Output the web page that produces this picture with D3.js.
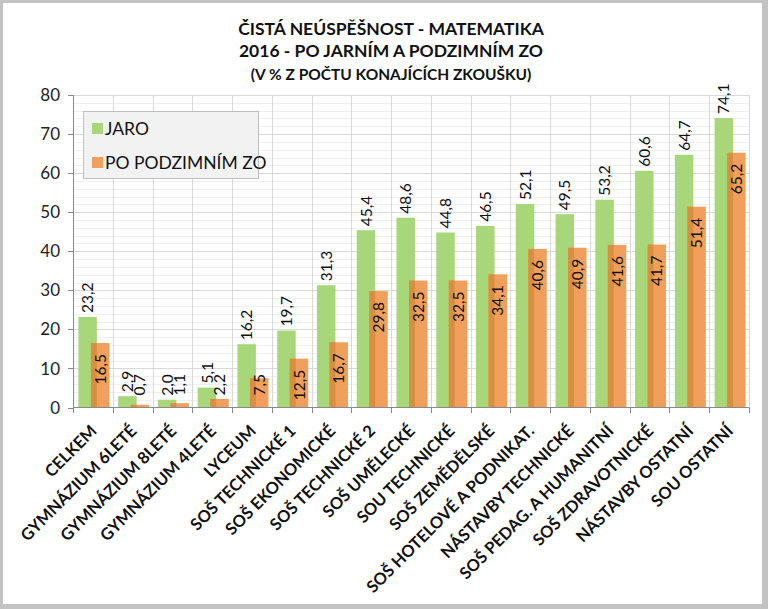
<!DOCTYPE html>
<html>
<head>
<meta charset="utf-8">
<script src="https://cdn.jsdelivr.net/npm/d3@7"></script>
<style>
html,body{margin:0;padding:0;background:#fff;}
svg{display:block;}
</style>
</head>
<body>
<script>
const categories = ["CELKEM","GYMNÁZIUM 6LETÉ","GYMNÁZIUM 8LETÉ","GYMNÁZIUM 4LETÉ","LYCEUM","SOŠ TECHNICKÉ 1","SOŠ EKONOMICKÉ","SOŠ TECHNICKÉ 2","SOŠ UMĚLECKÉ","SOU TECHNICKÉ","SOŠ ZEMĚDĚLSKÉ","SOŠ HOTELOVÉ A PODNIKAT.","NÁSTAVBY TECHNICKÉ","SOŠ PEDAG. A HUMANITNÍ","SOŠ ZDRAVOTNICKÉ","NÁSTAVBY OSTATNÍ","SOU OSTATNÍ"];
const jaro = [23.2,2.9,2.0,5.1,16.2,19.7,31.3,45.4,48.6,44.8,46.5,52.1,49.5,53.2,60.6,64.7,74.1];
const podzim = [16.5,0.7,1.1,2.2,7.5,12.5,16.7,29.8,32.5,32.5,34.1,40.6,40.9,41.6,41.7,51.4,65.2];
const seriesNames = ["JARO","PO PODZIMNÍM ZO"];
const yTicks = [0,10,20,30,40,50,60,70,80];
const titleLines = ["ČISTÁ NEÚSPĚŠNOST - MATEMATIKA","2016 - PO JARNÍM A PODZIMNÍM ZO","(V % Z POČTU KONAJÍCÍCH ZKOUŠKU)"];

const W = 768, H = 609;
const FONT = "Lato, 'Open Sans', sans-serif";
const green = "#a8d77a", orange = "#f0a05c", overlapCol = "#d98f42";

const svg = d3.select("body").append("svg").attr("width", W).attr("height", H);
svg.append("rect").attr("width", W).attr("height", H).attr("fill", "#c3c3c3");
svg.append("rect").attr("x", 3).attr("y", 3).attr("width", 759).attr("height", 601).attr("fill", "#fff");

const x = d3.scaleBand().domain(categories).range([73, 749]).paddingInner(0).paddingOuter(0);
const y = d3.scaleLinear().domain([0, 80]).range([407.5, 95]);
const bw = x.bandwidth();
const gOff = bw * 0.135, oOff = bw * 0.45, barW = bw * 0.465;

// minor gridlines
const minor = d3.range(2, 80, 2).filter(v => v % 10 !== 0);
svg.append("g").selectAll("line").data(minor).join("line")
  .attr("x1", 73).attr("x2", 749).attr("y1", d => Math.round(y(d)) + 0.5).attr("y2", d => Math.round(y(d)) + 0.5)
  .attr("stroke", "#efefef").attr("stroke-width", 1);
// major gridlines
svg.append("g").selectAll("line").data(yTicks.slice(1)).join("line")
  .attr("x1", 73).attr("x2", 749).attr("y1", d => Math.round(y(d)) + 0.5).attr("y2", d => Math.round(y(d)) + 0.5)
  .attr("stroke", "#d9d9d9").attr("stroke-width", 1);
// vertical gridlines
svg.append("g").selectAll("line").data(d3.range(1, categories.length + 1)).join("line")
  .attr("x1", i => Math.round(73 + i * bw) + 0.5).attr("x2", i => Math.round(73 + i * bw) + 0.5)
  .attr("y1", y(80)).attr("y2", y(0))
  .attr("stroke", "#d9d9d9").attr("stroke-width", 1);

// bars
const idx = d3.range(categories.length);
svg.append("g").selectAll("rect").data(idx).join("rect")
  .attr("x", i => x(categories[i]) + gOff).attr("width", barW)
  .attr("y", i => y(jaro[i])).attr("height", i => y(0) - y(jaro[i]))
  .attr("fill", green);
svg.append("g").selectAll("rect").data(idx).join("rect")
  .attr("x", i => x(categories[i]) + oOff).attr("width", barW)
  .attr("y", i => y(podzim[i])).attr("height", i => y(0) - y(podzim[i]))
  .attr("fill", orange);
// overlap shading
svg.append("g").selectAll("rect").data(idx).join("rect")
  .attr("x", i => x(categories[i]) + oOff).attr("width", gOff + barW - oOff)
  .attr("y", i => y(Math.min(podzim[i], jaro[i]))).attr("height", i => y(0) - y(Math.min(podzim[i], jaro[i])))
  .attr("fill", overlapCol);

// axes
svg.append("line").attr("x1", 73).attr("x2", 749).attr("y1", 407.5).attr("y2", 407.5).attr("stroke", "#898989");
svg.append("line").attr("x1", 73.5).attr("x2", 73.5).attr("y1", y(80)).attr("y2", 407.5).attr("stroke", "#898989");
svg.append("g").selectAll("line").data(d3.range(categories.length + 1)).join("line")
  .attr("x1", i => Math.round(73 + i * bw) + 0.5).attr("x2", i => Math.round(73 + i * bw) + 0.5)
  .attr("y1", 407.5).attr("y2", 413).attr("stroke", "#898989");
svg.append("g").selectAll("line").data(yTicks).join("line")
  .attr("x1", 68).attr("x2", 73).attr("y1", d => Math.round(y(d)) + 0.5).attr("y2", d => Math.round(y(d)) + 0.5)
  .attr("stroke", "#898989");
svg.append("g").selectAll("text").data(yTicks).join("text")
  .attr("x", 60).attr("y", d => y(d)).attr("dy", "0.36em")
  .attr("text-anchor", "end").attr("font-family", FONT).attr("font-size", 17).attr("fill", "#222")
  .text(d => d);

const fmt = v => d3.format(".1f")(v).replace(".", ",");
const LBL = 15.5;
// green labels outside end
svg.append("g").selectAll("text").data(idx).join("text")
  .attr("transform", i => `translate(${x(categories[i]) + gOff + barW / 2},${y(jaro[i]) - 4}) rotate(-90)`)
  .attr("dy", "0.36em").attr("text-anchor", "start")
  .attr("font-family", FONT).attr("font-size", LBL).attr("fill", "#111")
  .text(i => fmt(jaro[i]));
// orange labels inside end (or above the base when bar too short)
svg.append("g").selectAll("text").data(idx).join("text")
  .attr("transform", i => {
    const h = y(0) - y(podzim[i]);
    const cx = x(categories[i]) + oOff + barW / 2;
    return h >= 40 ? `translate(${cx},${y(podzim[i]) + 11}) rotate(-90)` : `translate(${cx},${y(0) - 12}) rotate(-90)`;
  })
  .attr("dy", "0.36em")
  .attr("text-anchor", i => (y(0) - y(podzim[i])) >= 40 ? "end" : "start")
  .attr("font-family", FONT).attr("font-size", LBL).attr("fill", "#111")
  .text(i => fmt(podzim[i]));

// x labels
svg.append("g").selectAll("text").data(categories).join("text")
  .attr("transform", d => `translate(${x(d) + bw / 2 + 5},${432}) rotate(-45)`)
  .attr("text-anchor", "end").attr("font-family", FONT).attr("font-weight", "bold")
  .attr("font-size", 16.5).attr("fill", "#111")
  .text(d => d);

// title
svg.append("g").selectAll("text").data(titleLines).join("text")
  .attr("x", 391).attr("y", (d, i) => [35, 57, 80][i])
  .attr("text-anchor", "middle").attr("font-family", FONT).attr("font-weight", "bold")
  .attr("font-size", (d, i) => i < 2 ? 17.5 : 15.5).attr("fill", "#111")
  .text(d => d);

// legend
const lg = svg.append("g");
lg.append("rect").attr("x", 83.5).attr("y", 111.5).attr("width", 175).attr("height", 67)
  .attr("fill", "#f2f2f2").attr("stroke", "#bfbfbf");
const lcol = [green, orange];
lg.selectAll("rect.m").data(seriesNames).join("rect").attr("class", "m")
  .attr("x", 92).attr("y", (d, i) => 123 + i * 34).attr("width", 11).attr("height", 11)
  .attr("fill", (d, i) => lcol[i]);
lg.selectAll("text").data(seriesNames).join("text")
  .attr("x", 105).attr("y", (d, i) => 128.5 + i * 34).attr("dy", "0.36em")
  .attr("font-family", FONT).attr("font-size", 17.5).attr("fill", "#111")
  .text(d => d);
</script>
</body>
</html>
